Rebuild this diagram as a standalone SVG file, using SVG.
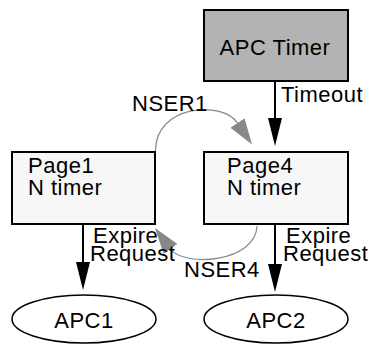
<svg xmlns="http://www.w3.org/2000/svg" width="371" height="345" viewBox="0 0 371 345">
<defs>
<style>
.box{stroke:#000;stroke-width:2}
.t{font-family:"Liberation Sans",Arial,sans-serif;font-size:22px;fill:#000;letter-spacing:0.5px}
.c{text-anchor:middle}
.ell{fill:#fff;stroke:#000;stroke-width:1.5}
.blk{stroke:#000;stroke-width:2;fill:none}
.gry{stroke:#888;stroke-width:1.2;fill:none}
</style>
<marker id="ab" markerUnits="userSpaceOnUse" markerWidth="30" markerHeight="16" refX="0" refY="7" orient="auto" viewBox="0 0 30 14">
<path d="M0,0 L28,7 L0,14 Z" fill="#000"/>
</marker>
<marker id="ag" markerUnits="userSpaceOnUse" markerWidth="28" markerHeight="18" refX="0" refY="8.5" orient="auto" viewBox="0 0 28 17">
<path d="M0,0 L26,8.5 L0,17 Z" fill="#888"/>
</marker>
</defs>
<g id="connectors">
<line class="blk" x1="275" y1="81" x2="275" y2="118" marker-end="url(#ab)"/>
<line class="blk" x1="83" y1="224" x2="83" y2="262" marker-end="url(#ab)"/>
<line class="blk" x1="275" y1="224" x2="275" y2="264" marker-end="url(#ab)"/>
<path class="gry" d="M155.5,151 C155,105 222,100 237.5,123" marker-end="url(#ag)"/>
<path class="gry" d="M257,226 C256,262 184.5,268 170.5,249" marker-end="url(#ag)"/>
<text class="t" x="281" y="102">Timeout</text>
<text class="t" x="132" y="111">NSER1</text>
<text class="t" x="93" y="243">Expire</text>
<text class="t" x="90" y="261">Request</text>
<text class="t" x="286" y="243">Expire</text>
<text class="t" x="283" y="261">Request</text>
<text class="t" x="184" y="277">NSER4</text>
</g>
<g id="apc-timer">
<rect class="box" x="204" y="10" width="144" height="71" fill="#b3b3b3"/>
<text class="t c" x="275" y="55">APC Timer</text>
</g>
<g id="page1">
<rect class="box" x="12" y="152" width="143" height="72" fill="#f7f7f7"/>
<text class="t" x="28" y="173">Page1</text>
<text class="t" x="28" y="195">N timer</text>
</g>
<g id="page4">
<rect class="box" x="204" y="152" width="144" height="72" fill="#f7f7f7"/>
<text class="t" x="227" y="173">Page4</text>
<text class="t" x="227" y="195">N timer</text>
</g>
<g id="apc1">
<ellipse class="ell" cx="84" cy="319" rx="72" ry="24"/>
<text class="t c" x="84" y="328">APC1</text>
</g>
<g id="apc2">
<ellipse class="ell" cx="276" cy="319" rx="72" ry="24"/>
<text class="t c" x="276" y="328">APC2</text>
</g>
</svg>
